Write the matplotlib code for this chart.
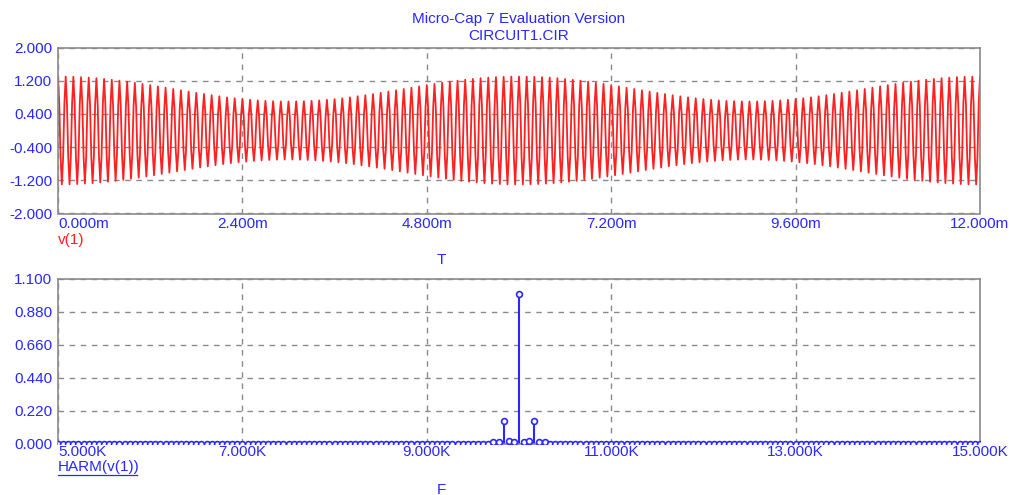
import numpy as np
import matplotlib.pyplot as plt

# spectrum (HARM(v(1)))
f_start = 5000.0
f_stop = 15000.0
f_step = 1000.0 / 18.0   # bin spacing
harm_freq = [9722.2, 9777.8, 9833.3, 9888.9, 9944.4, 10000.0,
             10055.6, 10111.1, 10166.7, 10222.2, 10277.8]
harm_amp = [0.008, 0.012, 0.150, 0.018, 0.010, 1.000,
            0.010, 0.018, 0.150, 0.012, 0.008]

t_end = 12e-3
t_step = 1.0 / 60000.0
top_yticks = [-2.0, -1.2, -0.4, 0.4, 1.2, 2.0]
top_xticks = [0.0, 2.4e-3, 4.8e-3, 7.2e-3, 9.6e-3, 12.0e-3]
top_xlabels = ["0.000m", "2.400m", "4.800m", "7.200m", "9.600m", "12.000m"]
bot_yticks = [0.0, 0.22, 0.44, 0.66, 0.88, 1.1]
bot_xticks = [5000, 7000, 9000, 11000, 13000, 15000]
bot_xlabels = ["5.000K", "7.000K", "9.000K", "11.000K", "13.000K", "15.000K"]

blue = "#2828ff"
red = "#ff2020"
gridc = "#8a8a8a"
plt.rcParams['font.family'] = ['Liberation Sans', 'DejaVu Sans']
fs = 11

W, H = 1012, 495
fig = plt.figure(figsize=(W / 100, H / 100), dpi=100)

def box(x0, y0, x1, y1):
    return [x0 / W, 1 - y1 / H, (x1 - x0) / W, (y1 - y0) / H]

# full bin grid, amplitudes from the read values
freqs = np.arange(f_start, f_stop + f_step / 2, f_step)
amps = np.zeros_like(freqs)
for f, a in zip(harm_freq, harm_amp):
    amps[np.argmin(np.abs(freqs - f))] = a

# time signal = sum of the main spectral lines, at the simulator's time step
t = np.arange(0, t_end + t_step / 2, t_step)
v = np.zeros_like(t)
for f, a in zip(harm_freq, harm_amp):
    if a > 0.1:
        v += a * np.cos(2 * np.pi * f * t)

def style(ax, xt, yt):
    for s in ax.spines.values():
        s.set_color(gridc)
        s.set_linewidth(1.2)
    ax.set_xticks(xt)
    ax.set_yticks(yt)
    ax.grid(True, color=gridc, linestyle=(0, (4, 4)), linewidth=1.0)
    ax.tick_params(length=0, labelcolor=blue, labelsize=fs, pad=4)
    ax.set_yticklabels(["%.3f" % y for y in yt])
    ax.set_xticklabels([])

# top panel
ax1 = fig.add_axes(box(58, 47.5, 980, 213.5))
ax1.plot(t, v, color=red, linewidth=1.3)
ax1.set_xlim(0, t_end)
ax1.set_ylim(-2.0, 2.0)
style(ax1, top_xticks, top_yticks)
for i, (x, lab) in enumerate(zip(top_xticks, top_xlabels)):
    ha = "left" if i == 0 else "center"
    ax1.text(x, -2.08, lab, ha=ha, va="top", color=blue, fontsize=fs)

# bottom panel
ax2 = fig.add_axes(box(58, 279, 980, 443.5))
ml, sl, bl = ax2.stem(freqs, amps, basefmt=" ")
plt.setp(sl, color=blue, linewidth=1.5)
plt.setp(ml, color=blue, marker="o", markersize=4.2, markerfacecolor="white",
         markeredgewidth=1.2, zorder=5)
ax2.set_xlim(f_start, f_stop)
ax2.set_ylim(0, 1.1)
style(ax2, bot_xticks, bot_yticks)
for i, (x, lab) in enumerate(zip(bot_xticks, bot_xlabels)):
    ha = "left" if i == 0 else "center"
    ax2.text(x, -0.012, lab, ha=ha, va="top", color=blue, fontsize=fs)

# titles and labels
fig.text(519 / W, 1 - 19 / H, "Micro-Cap 7 Evaluation Version", ha="center", va="center",
         color=blue, fontsize=fs)
fig.text(519 / W, 1 - 36 / H, "CIRCUIT1.CIR", ha="center", va="center",
         color=blue, fontsize=fs)
fig.text(58 / W, 1 - 240 / H, "v(1)", ha="left", va="center", color=red, fontsize=fs)
fig.text(441 / W, 1 - 260 / H, "T", ha="center", va="center", color=blue, fontsize=fs)
fig.text(58 / W, 1 - 467 / H, "HARM(v(1))", ha="left", va="center", color=blue,
         fontsize=fs)
fig.lines.append(plt.Line2D([58 / W, 137 / W], [1 - 475 / H, 1 - 475 / H],
                            transform=fig.transFigure, color=blue, linewidth=0.9))
fig.text(441 / W, 1 - 490 / H, "F", ha="center", va="center", color=blue, fontsize=fs)

fig.savefig("out.png", dpi=100, facecolor="white")
